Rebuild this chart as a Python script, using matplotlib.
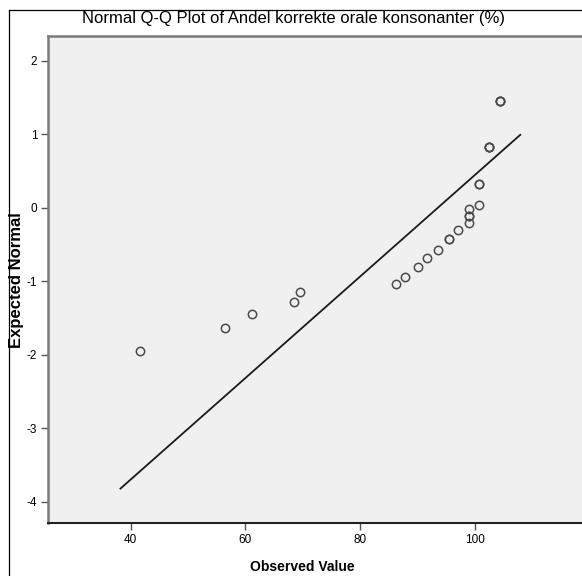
import matplotlib
matplotlib.use("Agg")
import matplotlib.pyplot as plt
from matplotlib.lines import Line2D

# Observed values and their expected normal scores
observed = [41.7, 56.4, 61.1, 68.5, 69.5, 86.2, 87.8, 90.0, 91.7, 93.6, 95.4, 95.4,
            97.1, 98.9, 99.0, 99.0, 99.0, 100.7, 100.7, 100.7, 102.5, 102.5, 102.5,
            104.3, 104.3, 104.3]
expected = [-1.95, -1.64, -1.44, -1.28, -1.15, -1.04, -0.94, -0.81, -0.69, -0.57, -0.42, -0.42,
            -0.30, -0.21, -0.11, -0.11, -0.02, 0.04, 0.32, 0.32, 0.82, 0.82, 0.82,
            1.45, 1.45, 1.45]

# Reference line endpoints
line_x = [38.1, 108.0]
line_y = [-3.83, 1.0]

x_ticks = [40, 60, 80, 100]
y_ticks = [-4, -3, -2, -1, 0, 1, 2]

title = "Normal Q-Q Plot of Andel korrekte orale konsonanter (%)"
x_label = "Observed Value"
y_label = "Expected Normal"

narrow = ["Liberation Sans Narrow", "Liberation Sans", "DejaVu Sans"]
sans = ["Liberation Sans", "DejaVu Sans"]

W, H = 582, 576
fig = plt.figure(figsize=(W / 100, H / 100), dpi=100)
fig.patch.set_facecolor("white")

left_px, top_px, bottom_px, right_px = 48.3, 36, 523, 596
ax = fig.add_axes([left_px / W, 1 - bottom_px / H,
                   (right_px - left_px) / W, (bottom_px - top_px) / H])
ax.set_facecolor("#f0f0f0")

ax.plot(line_x, line_y, color="#1a1a1a", lw=1.3, solid_capstyle="butt", zorder=2)
ax.plot(observed, expected, linestyle="none", marker="o", markersize=6,
        markerfacecolor="none", markeredgecolor="#4a4a4a", markeredgewidth=1.1,
        zorder=3)

ax.set_xlim(25.65, 25.65 + (right_px - left_px) / 5.74)
ax.set_ylim(-4.29, 2.336)
ax.set_xticks(x_ticks)
ax.set_yticks(y_ticks)
ax.set_xticklabels([str(v) for v in x_ticks], family=narrow, fontsize=8.5)
ax.set_yticklabels([str(v) for v in y_ticks], family=narrow, fontsize=8.5)
ax.tick_params(axis="both", length=5, width=1, color="#555555", pad=3)

for side in ("left", "top"):
    ax.spines[side].set_color("#7a7a7a")
    ax.spines[side].set_linewidth(1.8)
ax.spines["bottom"].set_color("#222222")
ax.spines["bottom"].set_linewidth(1.5)
ax.spines["right"].set_visible(False)

fig.text(302 / W, 1 - 567 / H, x_label, family=sans, fontweight="bold",
         fontsize=10, ha="center", va="center")
fig.text(294 / W, 1 - 18 / H, title, family=narrow, fontsize=12,
         ha="center", va="center")
fig.text(17 / W, 1 - 280 / H, y_label, family=sans, fontweight="bold",
         fontsize=12, rotation=90, ha="center", va="center")

# outer frame of the chart
fig.add_artist(Line2D([8.5 / W, 8.5 / W], [0, 1 - 10 / H], color="black", lw=0.9))
fig.add_artist(Line2D([8.5 / W, 1], [1 - 10 / H, 1 - 10 / H], color="black", lw=0.9))

fig.savefig("out.png", dpi=100)
